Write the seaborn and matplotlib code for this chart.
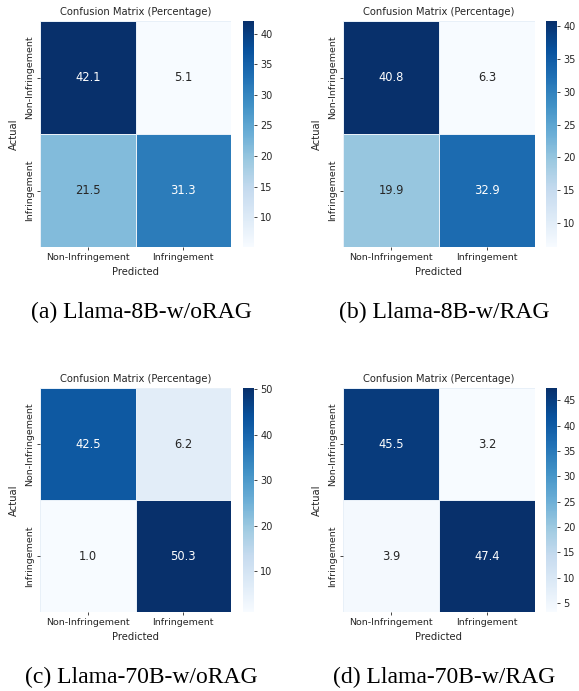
import numpy as np
import pandas as pd
import matplotlib
matplotlib.use("Agg")
import matplotlib.pyplot as plt
import seaborn as sns

labels = ["Non-Infringement", "Infringement"]
cm_8b_norag = [[42.1, 5.1], [21.5, 31.3]]
cm_8b_rag = [[40.8, 6.3], [19.9, 32.9]]
cm_70b_norag = [[42.5, 6.2], [1.0, 50.3]]
cm_70b_rag = [[45.5, 3.2], [3.9, 47.4]]
captions = ["(a) Llama-8B-w/oRAG", "(b) Llama-8B-w/RAG",
            "(c) Llama-70B-w/oRAG", "(d) Llama-70B-w/RAG"]
matrices = [cm_8b_norag, cm_8b_rag, cm_70b_norag, cm_70b_rag]

plt.rcParams["font.family"] = ["DejaVu Sans"]
plt.rcParams["text.color"] = "#262626"
plt.rcParams["axes.labelcolor"] = "#262626"
plt.rcParams["xtick.color"] = "#262626"
plt.rcParams["ytick.color"] = "#262626"

W, H = 579, 691
fig = plt.figure(figsize=(W / 100, H / 100), dpi=100)

def box(x0, y0, x1, y1):
    return [x0 / W, 1 - y1 / H, (x1 - x0) / W, (y1 - y0) / H]

# (heatmap box, colorbar box, caption center x, caption y)
layout = [
    ((40, 21, 231, 247), (243, 21, 254, 247), 141, 312),
    ((343, 21, 535, 247), (546, 21, 557, 247), 444, 312),
    ((40, 388, 231, 612), (243, 388, 254, 612), 141, 677),
    ((343, 388, 535, 612), (546, 388, 557, 612), 444, 677),
]

for mat, cap, (hb, cb, cx, cy) in zip(matrices, captions, layout):
    ax = fig.add_axes(box(*hb))
    cax = fig.add_axes(box(*cb))
    df = pd.DataFrame(mat, index=labels, columns=labels)
    sns.heatmap(df, annot=True, fmt=".1f", cmap="Blues", ax=ax, cbar_ax=cax,
                linewidths=0.5, linecolor="#e8f0f8",
                annot_kws={"fontsize": 8.3})
    ax.set_title("Confusion Matrix (Percentage)", fontsize=7.2, pad=4)
    ax.set_xlabel("Predicted", fontsize=7.2, labelpad=3.5)
    ax.set_ylabel("Actual", fontsize=7.2, labelpad=4)
    ax.tick_params(axis="both", labelsize=6.8, length=2.5, width=0.6, pad=2)
    ax.set_xticklabels(labels, rotation=0)
    ax.set_yticklabels(labels, rotation=90, va="center")
    cax.tick_params(labelsize=7, length=2.5, width=0.6, pad=2)
    fig.text(cx / W, 1 - cy / H, cap, ha="center", va="center",
             fontsize=17, family="Liberation Serif", color="black")

fig.savefig("out.png", dpi=100)
